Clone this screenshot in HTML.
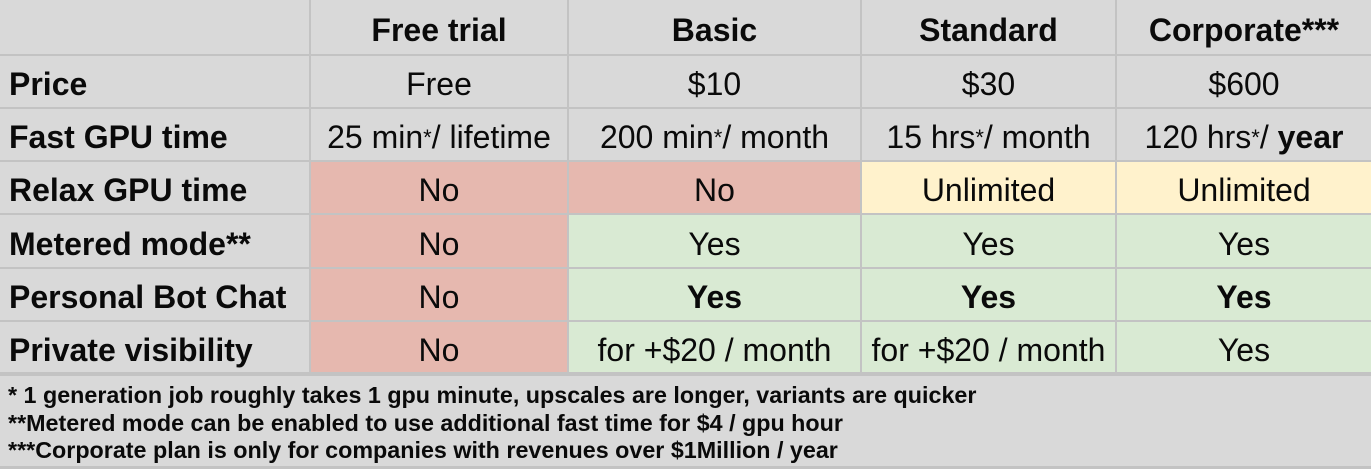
<!DOCTYPE html>
<html><head><meta charset="utf-8"><style>
body{margin:0;width:1371px;height:469px;background:#c3c3c3;overflow:hidden;font-family:"Liberation Sans",Arial,sans-serif;color:#0a0a0a}
.c{position:absolute;display:flex;align-items:center;justify-content:center;font-size:32px;background:#d9d9d9;white-space:nowrap;padding-top:6px;box-sizing:border-box}
.l{justify-content:flex-start;padding-left:9px;font-weight:bold}
.h{font-weight:bold}
.r{background:#e6b8af}.g{background:#d9ead3}.y{background:#fff2cc}
.b{font-weight:bold}
.s{font-size:22px;vertical-align:top}
#foot{position:absolute;left:0;top:376px;width:1371px;height:90px;background:#d9d9d9;font-weight:bold;font-size:23.3px;line-height:27.5px;padding:6px 0 0 8px;box-sizing:border-box;white-space:nowrap}
</style></head><body>
<div id="t"></div>
<div id="foot">
<div>* 1 generation job roughly takes 1 gpu minute, upscales are longer, variants are quicker</div>
<div>**Metered mode can be enabled to use additional fast time for $4 / gpu hour</div>
<div>***Corporate plan is only for companies with revenues over $1Million / year</div>
</div>
<script>
const xs=[0,311,569,862,1117,1371];
const ys=[0,56,109,162,215,269,322,374];
const rows=[
[["",""],["Free trial","h"],["Basic","h"],["Standard","h"],["Corporate***","h"]],
[["Price","l"],["Free",""],["$10",""],["$30",""],["$600",""]],
[["Fast GPU time","l"],["25 min<span class=s>*</span>/ lifetime",""],["200 min<span class=s>*</span>/ month",""],["15 hrs<span class=s>*</span>/ month",""],["120 hrs<span class=s>*</span>/&nbsp;<b>year</b>",""]],
[["Relax GPU time","l"],["No","r"],["No","r"],["Unlimited","y"],["Unlimited","y"]],
[["Metered mode**","l"],["No","r"],["Yes","g"],["Yes","g"],["Yes","g"]],
[["Personal Bot Chat","l"],["No","r"],["Yes","g b"],["Yes","g b"],["Yes","g b"]],
[["Private visibility","l"],["No","r"],["for +$20 / month","g"],["for +$20 / month","g"],["Yes","g"]]
];
const t=document.getElementById('t');
rows.forEach((row,ri)=>row.forEach((cell,ci)=>{
 const d=document.createElement('div');
 d.className='c '+cell[1];
 d.style.left=xs[ci]+'px';d.style.top=ys[ri]+'px';
 d.style.width=(xs[ci+1]-xs[ci]-(ci<4?2:0))+'px';
 d.style.height=(ys[ri+1]-ys[ri]-2)+'px';
 d.innerHTML=cell[0];
 
 
 t.appendChild(d);
}));
</script>
</body></html>
